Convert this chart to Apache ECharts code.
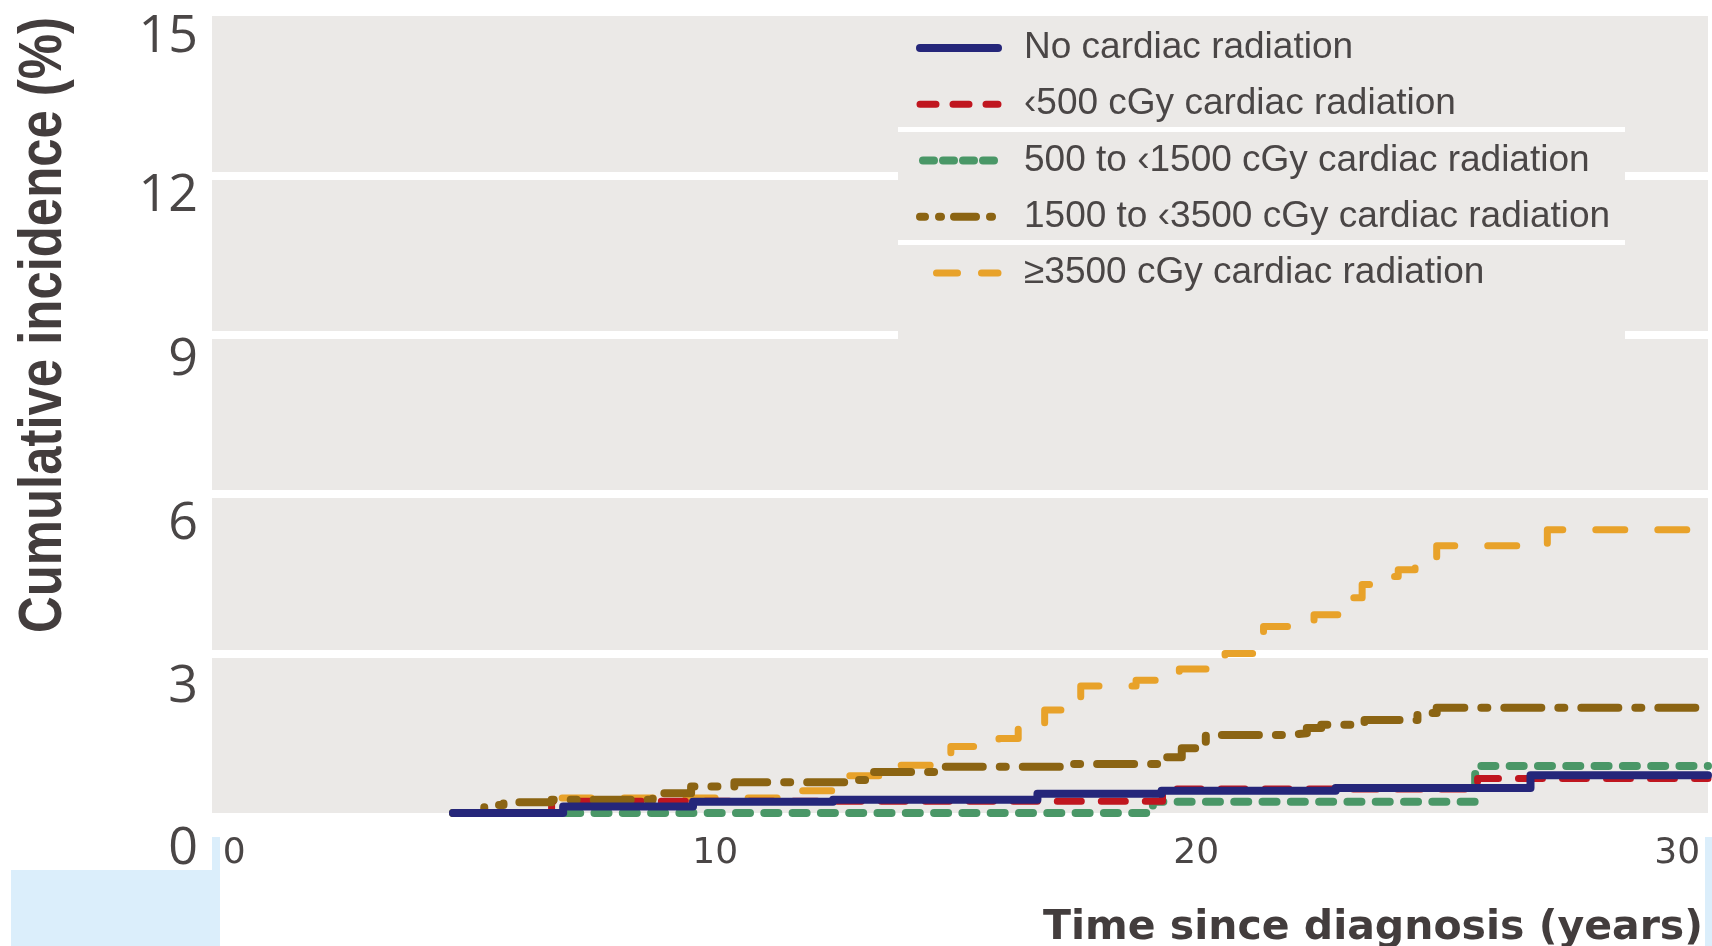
<!DOCTYPE html>
<html>
<head>
<meta charset="utf-8">
<script src="https://cdn.jsdelivr.net/npm/echarts@6/dist/echarts.min.js"></script>
<style>
  html, body { margin: 0; padding: 0; background: #ffffff; }
  #chart { width: 1712px; height: 946px; }
</style>
</head>
<body>
<div id="chart"></div>
<script>
// Cumulative incidence (%) by cardiac radiation dose, step curves over years since diagnosis
const noRadTime  = [4.55, 6.84, 9.54, 12.45, 16.7, 19.28, 22.9, 26.95, 30.64];
const noRadPct   = [0, 0.12, 0.21, 0.25, 0.36, 0.42, 0.47, 0.71, 0.71];

const lt500Time  = [4.55, 6.6, 19.3, 25.85, 30.64];
const lt500Pct   = [0, 0.22, 0.45, 0.65, 0.65];

const d500Time   = [4.55, 19.1, 25.8, 30.64];
const d500Pct    = [0, 0.21, 0.885, 0.885];

const d1500Time  = [4.55, 5.2, 5.6, 6.6, 8.7, 9.5, 10.4, 12.7, 13.3, 14.6, 17.2, 19.25, 19.7, 20.2, 21.9, 22.3, 22.6, 23.5, 24.6, 25.0, 30.64];
const d1500Pct   = [0, 0.15, 0.2, 0.25, 0.37, 0.5, 0.58, 0.62, 0.77, 0.87, 0.92, 1.05, 1.22, 1.47, 1.5, 1.6, 1.66, 1.75, 1.88, 1.98, 1.98];

const d3500Time  = [4.55, 6.5, 11.7, 12.7, 13.8, 14.9, 15.9, 16.3, 16.85, 17.2, 17.6, 18.75, 19.65, 20.25, 20.6, 21.3, 21.4, 22.45, 23.2, 23.45, 23.75, 24.2, 24.55, 25.0, 27.3, 30.64];
const d3500Pct   = [0, 0.28, 0.42, 0.7, 0.9, 1.25, 1.4, 1.68, 1.94, 2.05, 2.39, 2.5, 2.71, 2.85, 3.0, 3.1, 3.51, 3.73, 4.05, 4.3, 4.45, 4.58, 4.8, 5.03, 5.33, 5.33];

const seriesNames = [
  'No cardiac radiation',
  '‹500 cGy cardiac radiation',
  '500 to ‹1500 cGy cardiac radiation',
  '1500 to ‹3500 cGy cardiac radiation',
  '≥3500 cGy cardiac radiation'
];
const yTicks = [0, 3, 6, 9, 12, 15];
const xTicks = [0, 10, 20, 30];
const xTitle = 'Time since diagnosis (years)';
const yTitle = 'Cumulative incidence (%)';

const toPoints = (ts, vs) => ts.map((t, i) => [t, vs[i]]);

const C_BLUE = '#25267a', C_RED = '#c0161f', C_GREEN = '#4a9767', C_BROWN = '#8b6413', C_GOLD = '#e8a22a';
const PLOT_BG = '#ebe9e7';
const LABEL_COLOR = '#4a4646';
const TITLE_COLOR = '#433d3d';

// per-tick vertical nudges for the y labels
const yLabelShift = { 0: 36, 3: 34, 6: 30, 9: 25, 12: 21, 15: 21 };
const yRich = {};
yTicks.forEach(v => {
  yRich['y' + v] = {
    fontFamily: '"Open Sans", "Noto Sans", sans-serif',
    fontSize: 52, lineHeight: 52, color: LABEL_COLOR,
    padding: [2 * yLabelShift[v], 0, 0, 0]
  };
});

function stepLine(name, ts, vs, color, width, dash, z) {
  return {
    name: name, type: 'line', step: 'end', data: toPoints(ts, vs),
    symbol: 'none', showSymbol: false, clip: false, z: z,
    itemStyle: { color: color },
    lineStyle: { color: color, width: width, type: dash, cap: 'round', join: 'round' },
    emphasis: { disabled: true }
  };
}

const chart = echarts.init(document.getElementById('chart'), null, { renderer: 'canvas' });
chart.setOption({
  animation: false,
  backgroundColor: '#ffffff',
  grid: {
    left: 212, right: 4, top: 16, bottom: 133,
    show: true, backgroundColor: PLOT_BG, borderWidth: 0,
    containLabel: false, outerBoundsMode: 'none'
  },
  xAxis: {
    type: 'value', min: -0.46, max: 30.64,
    axisLine: { show: false }, axisTick: { show: false }, splitLine: { show: false },
    axisLabel: {
      customValues: xTicks, margin: 23,
      fontFamily: '"DejaVu Sans", sans-serif', fontSize: 36, lineHeight: 36, color: LABEL_COLOR
    }
  },
  yAxis: {
    type: 'value', min: 0, max: 15, interval: 3,
    axisLine: { show: false }, axisTick: { show: false },
    splitLine: { show: true, showMinLine: false, showMaxLine: false, lineStyle: { color: '#ffffff', width: 8 } },
    axisLabel: {
      margin: 14,
      formatter: v => '{y' + v + '|' + v + '}',
      rich: yRich
    }
  },
  legend: {
    orient: 'vertical', left: 916, top: 28, padding: 0,
    itemWidth: 78, itemHeight: 14, itemGap: 16.25,
    selectedMode: false, z: 10,
    itemStyle: { color: 'rgba(0,0,0,0)', borderWidth: 0, opacity: 0 },
    lineStyle: { width: 8, cap: 'round' },
    textStyle: {
      fontFamily: '"Liberation Sans", Arial, sans-serif', fontSize: 37, lineHeight: 40,
      color: LABEL_COLOR, padding: [0, 0, 0, 21]
    },
    data: [
      { name: seriesNames[0], lineStyle: { type: 'solid', width: 8 } },
      { name: seriesNames[1], lineStyle: { type: [16, 17], width: 7 } },
      { name: seriesNames[2], lineStyle: { type: [11, 9], dashOffset: 17, width: 8 } },
      { name: seriesNames[3], lineStyle: { type: [22, 14, 2, 13], width: 8 } },
      { name: seriesNames[4], lineStyle: { type: [21, 24], dashOffset: 28.5, width: 7 } }
    ]
  },
  graphic: [
    // legend panel over the plot background
    { type: 'rect', z: 1, silent: true, shape: { x: 898, y: 16, width: 727, height: 334 }, style: { fill: PLOT_BG } },
    { type: 'rect', z: 1, silent: true, shape: { x: 898, y: 127, width: 727, height: 5 }, style: { fill: '#ffffff' } },
    { type: 'rect', z: 1, silent: true, shape: { x: 898, y: 240, width: 727, height: 5 }, style: { fill: '#ffffff' } },
    // pale blue page blocks
    { type: 'rect', z: 1, silent: true, shape: { x: 11, y: 870, width: 209, height: 76 }, style: { fill: '#dbeefb' } },
    { type: 'rect', z: 1, silent: true, shape: { x: 212, y: 837, width: 8, height: 109 }, style: { fill: '#dbeefb' } },
    { type: 'rect', z: 1, silent: true, shape: { x: 1705, y: 837, width: 7, height: 109 }, style: { fill: '#dbeefb' } },
    // axis titles
    {
      type: 'text', z: 5, x: 44, y: 325, rotation: Math.PI / 2, scaleX: 0.82, silent: true,
      style: {
        text: yTitle, fill: TITLE_COLOR, align: 'center', verticalAlign: 'middle',
        fontFamily: '"Liberation Sans", Arial, sans-serif', fontWeight: 'bold', fontSize: 62
      }
    },
    {
      type: 'text', z: 5, x: 1703, y: 928, silent: true,
      style: {
        text: xTitle, fill: TITLE_COLOR, align: 'right', verticalAlign: 'middle',
        fontFamily: '"DejaVu Sans", sans-serif', fontWeight: 'bold', fontSize: 41
      }
    }
  ],
  series: [
    stepLine(seriesNames[0], noRadTime, noRadPct, C_BLUE, 8, 'solid', 7),
    stepLine(seriesNames[1], lt500Time, lt500Pct, C_RED, 7, [24, 20], 5),
    stepLine(seriesNames[2], d500Time, d500Pct, C_GREEN, 8, [14, 14.3], 4),
    stepLine(seriesNames[3], d1500Time, d1500Pct, C_BROWN, 8, [37, 17, 6, 17], 6),
    stepLine(seriesNames[4], d3500Time, d3500Pct, C_GOLD, 7, [29, 33], 3)
  ]
});
</script>
</body>
</html>
